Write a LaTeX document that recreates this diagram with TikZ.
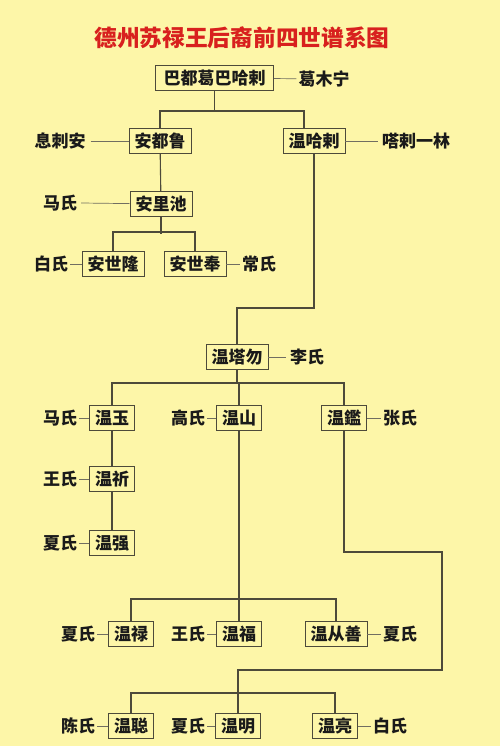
\documentclass[tikz,border=0pt]{standalone}
\usepackage{fontspec}
\setmainfont{Noto Sans CJK SC}
\usetikzlibrary{positioning, calc}
\definecolor{gpbg}{HTML}{FDF6A8}
\definecolor{gpline}{HTML}{4D4A3A}
\definecolor{gptitle}{HTML}{D8201E}
\definecolor{gptext}{HTML}{1A1A1A}

\tikzset{
  person/.style={draw=gpline, fill=gpbg, line width=0.9pt, inner xsep=5.5pt,
    minimum height=25pt, text=gptext, font=\bfseries\fontsize{17}{17}\selectfont},
  wife/.style={inner sep=2pt, text=gptext, font=\bfseries\fontsize{17}{17}\selectfont},
  link/.style={gpline, line width=1.1pt},
  tie/.style={gpline!80, line width=0.7pt}
}

\begin{document}
\begin{tikzpicture}[x=1pt, y=-1pt]
  \fill[gpbg] (0,0) rectangle (500,746);
  \node[text=gptitle, font=\bfseries\fontsize{22.7}{23}\selectfont] (ttl) at (242,38) {德州苏禄王后裔前四世谱系图};

  % first generations
  \node[person, inner xsep=8pt] (root) at (214.5,78) {巴都葛巴哈剌};
  \node[wife] (gmn) at (324,79) {葛木宁};
  \node[person] (adl) at (160,141) {安都鲁};
  \node[wife] (xla) at (60,141) {息刺安};
  \node[person] (whl) at (314,141) {温哈剌};
  \node[wife] (tll) at (416,141) {嗒剌一林};
  \node[person] (alc) at (161,204) {安里池};
  \node[wife] (ms1) at (60,203) {马氏};
  \node[person] (asl) at (113,264) {安世隆};
  \node[wife] (bs1) at (51,264) {白氏};
  \node[person] (asf) at (195,264) {安世奉};
  \node[wife] (cs1) at (259,264) {常氏};
  \node[person] (wtw) at (237,357) {温塔勿};
  \node[wife] (ls1) at (307,357) {李氏};

  % sons of wtw
  \node[person] (wyu) at (112,418) {温玉};
  \node[wife] (ms2) at (60,418) {马氏};
  \node[person] (wsh) at (239,418) {温山};
  \node[wife] (gs1) at (188,418) {高氏};
  \node[person] (wjn) at (344,418) {温鑑};
  \node[wife] (zs1) at (400,418) {张氏};
  \node[person] (wqi) at (112,479) {温祈};
  \node[wife] (ws1) at (60,479) {王氏};
  \node[person] (wqg) at (112,543) {温强};
  \node[wife] (xs1) at (60,543) {夏氏};

  % grandsons
  \node[person] (wlu) at (131,634) {温禄};
  \node[wife] (xs2) at (78,634) {夏氏};
  \node[person] (wfu) at (239,634) {温福};
  \node[wife] (ws2) at (188,634) {王氏};
  \node[person] (wcs) at (336,634) {温从善};
  \node[wife] (xs3) at (400,634) {夏氏};
  \node[person] (wcg) at (131,726) {温聪};
  \node[wife] (cs2) at (78,726) {陈氏};
  \node[person] (wmg) at (238,726) {温明};
  \node[wife] (xs4) at (188,726) {夏氏};
  \node[person] (wlg) at (335,726) {温亮};
  \node[wife] (bs2) at (390,726) {白氏};

  % descent lines
  \draw[link] (root.south) -- ++(0,19);
  \draw[link] (adl.north) |- (root.south |- 0,111) -| ([xshift=-10pt]whl.north);
  \draw[link] (adl) -- (alc);
  \draw[link] (alc.south) -- ++(0,17);
  \draw[link] (asl.north) |- (alc.south |- 0,232) -| (asf.north);
  \draw[link] (whl.south) -- ++(0,154) -| (wtw.north);
  \draw[link] (wtw.south) -- ++(0,13);
  \draw[link] (wyu.north) |- (wtw.south |- 0,383) -| (wjn.north);
  \draw[link] (wtw.south |- 0,383) -| (wsh.north);
  \draw[link] (wyu) -- (wqi);
  \draw[link] (wqi) -- (wqg);
  \draw[link] (wsh) -- (wfu);
  \draw[link] (wlu.north) |- (wfu.north |- 0,599) -| (wcs.north);
  \coordinate (j1) at (442,552);
  \coordinate (j2) at (442,670);
  \draw[link] (wjn.south) |- (j1) -- (j2) -| (wmg.north);
  \draw[link] (wcg.north) |- (wmg.north |- 0,693) -| (wlg.north);

  % spouses
  \draw[tie] (root) -- (gmn);
  \draw[tie] ([xshift=3pt]xla.east) -- (adl);
  \draw[tie] (whl) -- ([xshift=-2pt]tll.west);
  \draw[tie] ([xshift=2pt]ms1.east) -- (alc);
  \draw[tie] (bs1) -- (asl);
  \draw[tie] (asf) -- (cs1);
  \draw[tie] (wtw) -- ([xshift=-2pt]ls1.west);
  \draw[tie] (ms2) -- (wyu);
  \draw[tie] (gs1) -- (wsh);
  \draw[tie] (wjn) -- (zs1);
  \draw[tie] (ws1) -- (wqi);
  \draw[tie] (xs1) -- (wqg);
  \draw[tie] (xs2) -- (wlu);
  \draw[tie] (ws2) -- (wfu);
  \draw[tie] (wcs) -- (xs3);
  \draw[tie] (cs2) -- (wcg);
  \draw[tie] (xs4) -- (wmg);
  \draw[tie] (wlg) -- (bs2);
\end{tikzpicture}
\end{document}
